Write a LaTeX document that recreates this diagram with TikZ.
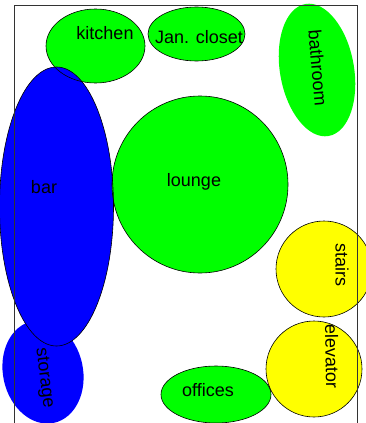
\documentclass[tikz,border=0pt]{standalone}
\usepackage{fontspec}
\setmainfont{Liberation Sans}
\definecolor{rgreen}{RGB}{0,255,0}
\definecolor{rblue}{RGB}{0,0,255}
\definecolor{ryellow}{RGB}{255,255,0}
\begin{document}
\begin{tikzpicture}[x=1pt,y=-1pt,
  lbl/.style={font=\fontsize{18}{20}\selectfont, inner sep=0pt},
  outline/.style={draw=black, line width=0.6pt},
  frame/.style={draw=black!80, line width=0.5pt}]
\clip (0,0) rectangle (366,423);
% fills
\fill[rgreen] (95.5,46) ellipse [x radius=49.5pt, y radius=37pt];
\fill[rgreen] (196.5,34) ellipse [x radius=48.5pt, y radius=27pt];
\fill[rgreen, rotate around={10:(317,70)}] (317,70) ellipse [x radius=37pt, y radius=67pt];
\fill[rblue, rotate around={12:(43,372)}] (43,372) ellipse [x radius=40pt, y radius=52pt];
\fill[rblue] (56.5,206.5) ellipse [x radius=57pt, y radius=139.5pt];
\fill[rgreen] (200,184.5) ellipse [x radius=88pt, y radius=88.5pt];
\fill[ryellow] (324,269) circle [radius=48pt];
\fill[ryellow] (314,369) circle [radius=48pt];
\fill[rgreen] (216,394.5) ellipse [x radius=55pt, y radius=28.5pt];
% outlines
\draw[outline] (95.5,46) ellipse [x radius=49.5pt, y radius=37pt];
\draw[outline] (196.5,34) ellipse [x radius=48.5pt, y radius=27pt];
\draw[outline] (56.5,206.5) ellipse [x radius=57pt, y radius=139.5pt];
\draw[outline] (200,184.5) ellipse [x radius=88pt, y radius=88.5pt];
\draw[outline] (324,269) circle [radius=48pt];
\draw[outline] (314,369) circle [radius=48pt];
\draw[outline] (216,394.5) ellipse [x radius=55pt, y radius=28.5pt];
% frame
\draw[frame] (14,5) rectangle (357.5,440);
% labels
\node[lbl] (kitchen) at (105,33) {kitchen};
\node[lbl] (closet) at (199,37) {Jan. closet};
\node[lbl, rotate=-85] (bathroom) at (318,68) {bathroom};
\node[lbl] (bar) at (44,187) {bar};
\node[lbl] (lounge) at (194,182) {lounge};
\node[lbl, rotate=-90] (stairs) at (342,265) {stairs};
\node[lbl, rotate=-89] (elevator) at (332,356) {elevator};
\node[lbl, rotate=-83] (storage) at (44,378) {storage};
\node[lbl] (offices) at (208,390) {offices};
\end{tikzpicture}
\end{document}
